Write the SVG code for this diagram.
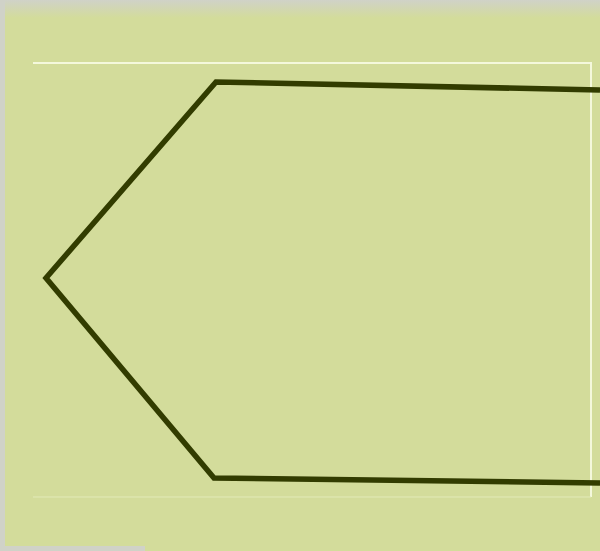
<svg xmlns="http://www.w3.org/2000/svg" width="600" height="551" viewBox="0 0 600 551">
<defs>
<linearGradient id="topfade" x1="0" y1="0" x2="0" y2="1">
<stop offset="0" stop-color="#d0d2c8"/>
<stop offset="1" stop-color="#d3dc9b"/>
</linearGradient>
</defs>
<style>
.frame{fill:none;stroke:#f4f8dc;stroke-width:2}
.faint{fill:none;stroke:#e2eab8;stroke-width:1}
.shape{fill:none;stroke:#323c00;stroke-width:5.5;stroke-linejoin:miter}
</style>
<rect x="0" y="0" width="600" height="551" fill="#d3dc9b"/>
<rect x="0" y="0" width="600" height="18" fill="url(#topfade)"/>
<rect x="0" y="0" width="5" height="551" fill="#d0d2c8"/>
<rect x="0" y="546" width="145" height="5" fill="#d0d2c8"/>
<g id="frame">
<line class="frame" x1="33" y1="63" x2="592" y2="63"/>
<line class="frame" x1="591" y1="63" x2="591" y2="497"/>
<line class="faint" x1="33" y1="497" x2="591" y2="497"/>
</g>
<g id="hexagon">
<polyline class="shape" points="600,90 216,82 46,278 214,478 600,483"/>
</g>
</svg>
